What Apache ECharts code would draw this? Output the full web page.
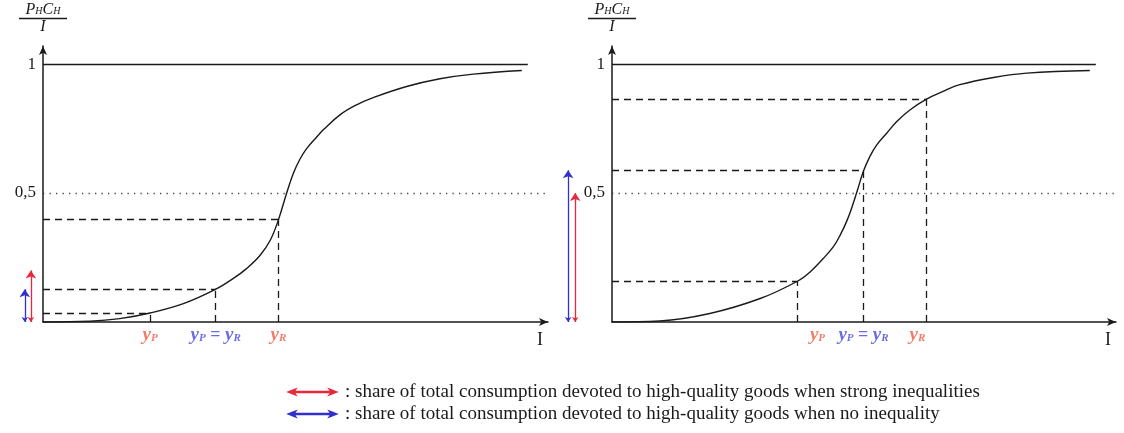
<!DOCTYPE html>
<html>
<head>
<meta charset="utf-8">
<script src="https://cdn.jsdelivr.net/npm/echarts@6/dist/echarts.min.js"></script>
<style>html,body{margin:0;padding:0;background:#fff}#c{width:1124px;height:433px}</style>
</head>
<body>
<div id="c"></div>
<script>
// ---- data ----
// left panel: S-curve of the high-quality budget share against income I
const leftCurveX = [0, 0.93, 1.52, 2.12, 2.78, 3.42, 3.77, 4.03, 4.30, 4.50, 4.66, 4.83, 4.96, 5.09, 5.22, 5.42, 5.55, 5.88, 6.21, 6.54, 7.20, 7.86, 8.52, 9.48];
const leftCurveY = [0, 0.003, 0.013, 0.035, 0.071, 0.127, 0.169, 0.207, 0.259, 0.317, 0.395, 0.503, 0.578, 0.632, 0.672, 0.717, 0.745, 0.803, 0.842, 0.870, 0.913, 0.943, 0.961, 0.975];
// right panel
const rightCurveX = [0, 0.95, 1.94, 2.94, 3.68, 3.93, 4.19, 4.39, 4.52, 4.66, 4.79, 4.86, 4.99, 5.12, 5.25, 5.45, 5.65, 5.91, 6.24, 6.57, 6.90, 7.57, 8.23, 9.48];
const rightCurveY = [0, 0.004, 0.033, 0.091, 0.158, 0.194, 0.246, 0.291, 0.334, 0.392, 0.462, 0.505, 0.585, 0.643, 0.686, 0.732, 0.777, 0.822, 0.864, 0.894, 0.920, 0.948, 0.965, 0.975];
// marked incomes (yP, yP=yR, yR) and their shares
const leftIncomes = [2.12, 3.42, 4.66];
const leftShares = [0.035, 0.127, 0.40];
const rightIncomes = [3.68, 4.99, 6.24];
const rightShares = [0.158, 0.588, 0.864];
// arrow heights: share with strong inequalities / with no inequality
const leftArrowStrong = 0.20, leftArrowNone = 0.127;
const rightArrowStrong = 0.50, rightArrowNone = 0.588;
// labels
const incomeLabels = ['{i|y}{s|P}', '{i|y}{s|P}{b| = }{i|y}{s|R}', '{i|y}{s|R}'];
const yTickLabels = {'0.5': '0,5', '1': '1'};
const halfLevel = 0.5, fullLevel = 1, lineEnd = 9.6, xMax = 10;
const strongName = ': share of total consumption devoted to high-quality goods when strong inequalities';
const noneName = ': share of total consumption devoted to high-quality goods when no inequality';

// ---- layout / style ----
const SERIF = 'Liberation Serif';
const RED = '#e8283a', BLUE = '#3030d0', LRED = '#ee5a40', LBLUE = '#4646dc', INK = '#1a1a1a';
const leftArrowX = {strong: -0.24, none: -0.36};
const rightArrowX = {strong: -0.73, none: -0.87};
const rightLabelOffsets = [20, 0, -9];

const richLabel = (color) => ({
  i: {fontFamily: SERIF, fontStyle: 'italic', fontWeight: 'bold', fontSize: 19, color: color, verticalAlign: 'middle', lineHeight: 18},
  s: {fontFamily: SERIF, fontStyle: 'italic', fontWeight: 'bold', fontSize: 11, color: color, verticalAlign: 'bottom', lineHeight: 10, padding: [7, 0, 0, 0]},
  b: {fontFamily: SERIF, fontWeight: 'bold', fontSize: 18, color: color, verticalAlign: 'middle', lineHeight: 18}
});

function zip(xs, ys) { return xs.map((x, i) => [x, ys[i]]); }

function panelSeries(idx, cx, cy, incomes, shares, arrowX, arrowStrong, arrowNone, labelOffsets) {
  const out = [];
  out.push({type: 'line', xAxisIndex: idx, yAxisIndex: idx, data: zip(cx, cy), smooth: 0.4,
    showSymbol: false, symbol: 'none', lineStyle: {color: INK, width: 1.4}, silent: true, z: 5});
  const guides = [];
  incomes.forEach((x, i) => {
    guides.push({coords: [[0, shares[i]], [x, shares[i]]]});
    guides.push({coords: [[x, 0], [x, shares[i]]]});
  });
  out.push({type: 'lines', coordinateSystem: 'cartesian2d', xAxisIndex: idx, yAxisIndex: idx, data: guides,
    lineStyle: {color: INK, width: 1.3, type: [7, 5], opacity: 1}, silent: true, z: 3});
  out.push({type: 'lines', coordinateSystem: 'cartesian2d', xAxisIndex: idx, yAxisIndex: idx,
    data: [{coords: [[0, fullLevel], [lineEnd, fullLevel]]}],
    lineStyle: {color: INK, width: 1.4, type: 'solid', opacity: 1}, silent: true, z: 3});
  out.push({type: 'lines', coordinateSystem: 'cartesian2d', xAxisIndex: idx, yAxisIndex: idx,
    data: [{coords: [[0, halfLevel], [xMax, halfLevel]]}],
    lineStyle: {color: '#444', width: 1.3, type: [1.3, 5.2], opacity: 1}, silent: true, z: 2});
  out.push({type: 'lines', name: strongName, coordinateSystem: 'cartesian2d', xAxisIndex: idx, yAxisIndex: idx, clip: false,
    data: [{coords: [[arrowX.strong, 0], [arrowX.strong, arrowStrong]]}],
    symbol: ['arrow', 'arrow'], symbolSize: [5, 8],
    itemStyle: {color: RED}, lineStyle: {color: RED, width: 1.3, opacity: 1}, silent: true, z: 4});
  out.push({type: 'lines', name: noneName, coordinateSystem: 'cartesian2d', xAxisIndex: idx, yAxisIndex: idx, clip: false,
    data: [{coords: [[arrowX.none, 0], [arrowX.none, arrowNone]]}],
    symbol: ['arrow', 'arrow'], symbolSize: [5, 8],
    itemStyle: {color: BLUE}, lineStyle: {color: BLUE, width: 1.3, opacity: 1}, silent: true, z: 4});
  const labelColors = [LRED, LBLUE, LRED];
  incomes.forEach((x, i) => {
    out.push({type: 'scatter', xAxisIndex: idx, yAxisIndex: idx, data: [[x, 0]], symbolSize: 0, silent: true,
      label: {show: true, position: 'bottom', distance: 4, offset: [labelOffsets[i], 0],
        formatter: incomeLabels[i], rich: richLabel(labelColors[i])}});
  });
  return out;
}

const yName = '{n|P}{s|H}{n|C}{s|H}\n{bar|}\n{n|I}';
const yNameRich = {
  n: {fontFamily: SERIF, fontStyle: 'italic', fontSize: 16, color: INK, lineHeight: 12, align: 'center'},
  s: {fontFamily: SERIF, fontStyle: 'italic', fontSize: 10, color: INK, lineHeight: 8, verticalAlign: 'bottom', padding: [4, 0, 0, 0]},
  bar: {width: 48, height: 1.5, backgroundColor: INK, lineHeight: 5, align: 'center'}
};

function xAxis(idx) {
  return {type: 'value', gridIndex: idx, min: 0, max: xMax, name: 'I', nameLocation: 'end', nameGap: -8,
    nameTextStyle: {fontFamily: SERIF, fontSize: 18, color: INK, align: 'center', verticalAlign: 'top', padding: [9, 0, 0, 0]},
    axisLine: {show: true, onZero: false, lineStyle: {color: INK, width: 1.5}, symbol: ['none', 'arrow'], symbolSize: [6, 9]},
    axisTick: {show: false}, axisLabel: {show: false}, splitLine: {show: false}};
}
function yAxis(idx) {
  return {type: 'value', gridIndex: idx, min: 0, max: 1.07, interval: 0.5, name: yName, nameLocation: 'end', nameGap: 13,
    nameTextStyle: {align: 'center', verticalAlign: 'bottom', rich: yNameRich},
    axisLine: {show: true, onZero: false, lineStyle: {color: INK, width: 1.5}, symbol: ['none', 'arrow'], symbolSize: [6, 9]},
    axisTick: {show: false}, splitLine: {show: false},
    axisLabel: {margin: 7, fontFamily: SERIF, fontSize: 17, color: INK,
      formatter: v => yTickLabels[String(v)] || ''}};
}

const option = {
  animation: false,
  backgroundColor: '#fff',
  grid: [
    {left: 43, width: 505, top: 46, height: 276, outerBoundsMode: 'none', containLabel: false},
    {left: 612, width: 504, top: 46, height: 276, outerBoundsMode: 'none', containLabel: false}
  ],
  xAxis: [xAxis(0), xAxis(1)],
  yAxis: [yAxis(0), yAxis(1)],
  legend: {
    left: 283, top: 377, orient: 'vertical', itemWidth: 47, itemHeight: 6, itemGap: 2,
    selectedMode: false,
    icon: 'path://M0,5 L13,0 L10,4.4 L90,4.4 L87,0 L100,5 L87,10 L90,5.6 L10,5.6 L13,10 Z',
    data: [{name: strongName, itemStyle: {color: RED}}, {name: noneName, itemStyle: {color: BLUE}}],
    textStyle: {fontFamily: SERIF, fontSize: 19, lineHeight: 20, color: INK, padding: [0, 0, 0, 4]}
  },
  series: [].concat(
    panelSeries(0, leftCurveX, leftCurveY, leftIncomes, leftShares, leftArrowX, leftArrowStrong, leftArrowNone, [0, 0, 0]),
    panelSeries(1, rightCurveX, rightCurveY, rightIncomes, rightShares, rightArrowX, rightArrowStrong, rightArrowNone, rightLabelOffsets)
  )
};
const chart = echarts.init(document.getElementById('c'), null, {renderer: 'canvas'});
chart.setOption(option);
</script>
</body>
</html>
